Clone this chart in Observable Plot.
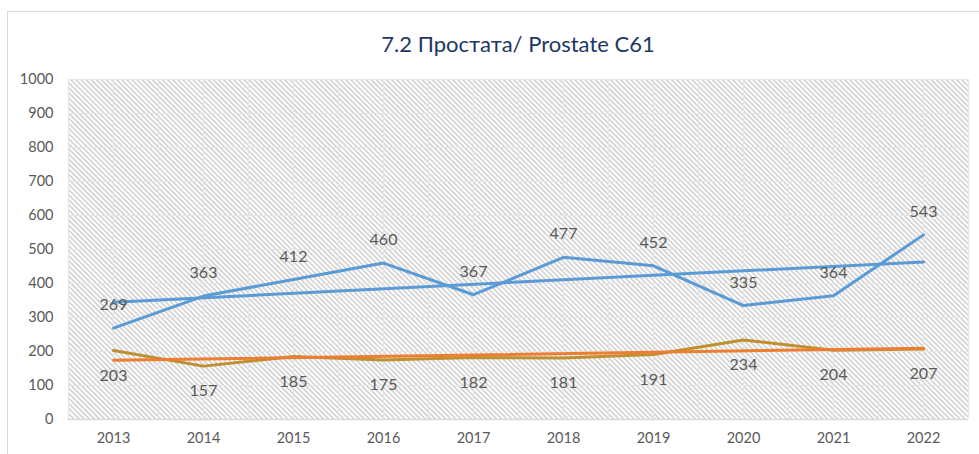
<!DOCTYPE html>
<html><head><meta charset="utf-8">
<script src="https://cdn.jsdelivr.net/npm/d3@7"></script>
<script src="https://cdn.jsdelivr.net/npm/@observablehq/plot@0.6"></script>
<style>
html,body{margin:0;padding:0;background:#fff;overflow:hidden;width:979px;height:454px;}
#frame{position:absolute;left:7px;top:11px;width:1000px;height:500px;border:1px solid #d9d9d9;}
#chart{position:absolute;left:0;top:0;}
#title{position:absolute;left:68px;width:900px;top:30px;text-align:center;font-family:Lato,sans-serif;font-weight:400;font-size:22px;color:#203864;}
</style></head><body>
<div id="frame"></div>
<div id="chart"></div>
<div id="title">7.2 Простата/ Prostate C61</div>
<script>
const years = [2013, 2014, 2015, 2016, 2017, 2018, 2019, 2020, 2021, 2022];
const seriesBlue = [269, 363, 412, 460, 367, 477, 452, 335, 364, 543];
const seriesGold = [203, 157, 185, 175, 182, 181, 191, 234, 204, 207];
const yTicks = [0, 100, 200, 300, 400, 500, 600, 700, 800, 900, 1000];

const blue = years.map((year, i) => ({year, value: seriesBlue[i]}));
const gold = years.map((year, i) => ({year, value: seriesGold[i]}));
const xGrid = years.flatMap(y => [y - 0.5, y]).concat([years[years.length - 1] + 0.5]);

const chart = Plot.plot({
  width: 979,
  height: 454,
  marginLeft: 68,
  marginRight: 11,
  marginTop: 79,
  marginBottom: 35,
  style: {color: "#595959", fontFamily: "Lato, sans-serif", fontSize: "14px", background: "transparent"},
  x: {type: "linear", domain: [years[0] - 0.5, years[years.length - 1] + 0.5]},
  y: {domain: [0, 1000]},
  marks: [
    Plot.frame({fill: "url(#hatch)", stroke: "none"}),
    Plot.gridY(yTicks, {stroke: "#e6e6e6", strokeOpacity: 1, strokeWidth: 1.2}),
    Plot.gridX(xGrid, {stroke: "#e6e6e6", strokeOpacity: 1, strokeWidth: 1.2}),
    Plot.ruleY([0], {stroke: "#d9d9d9", strokeWidth: 1.5}),
    Plot.axisY(yTicks, {tickSize: 0, tickPadding: 15, fontSize: 14.5, tickFormat: d => String(d), label: null}),
    Plot.axisX(years, {tickSize: 0, tickPadding: 13, fontSize: 14.5, tickFormat: d => String(d), label: null}),
    Plot.line(blue, {x: "year", y: "value", stroke: "#5B9BD5", strokeWidth: 3}),
    Plot.linearRegressionY(blue, {x: "year", y: "value", stroke: "#5B9BD5", strokeWidth: 3, ci: 0}),
    Plot.line(gold, {x: "year", y: "value", stroke: "#BF9030", strokeWidth: 3}),
    Plot.linearRegressionY(gold, {x: "year", y: "value", stroke: "#ED7D31", strokeWidth: 3, ci: 0}),
    Plot.text(blue, {x: "year", y: "value", text: "value", dy: -23, fontSize: 16, fill: "#595959"}),
    Plot.text(gold, {x: "year", y: "value", text: "value", dy: 25, fontSize: 16, fill: "#595959"})
  ]
});

d3.select(chart).insert("defs", ":first-child").html(
  '<pattern id="hatch" width="3.6" height="3.6" patternUnits="userSpaceOnUse" patternTransform="rotate(-45)">' +
  '<rect width="3.6" height="3.6" fill="#ffffff"/>' +
  '<line x1="0.9" y1="0" x2="0.9" y2="3.6" stroke="#d0d0d0" stroke-width="1.6"/></pattern>'
);
document.getElementById("chart").appendChild(chart);
</script>
</body></html>
